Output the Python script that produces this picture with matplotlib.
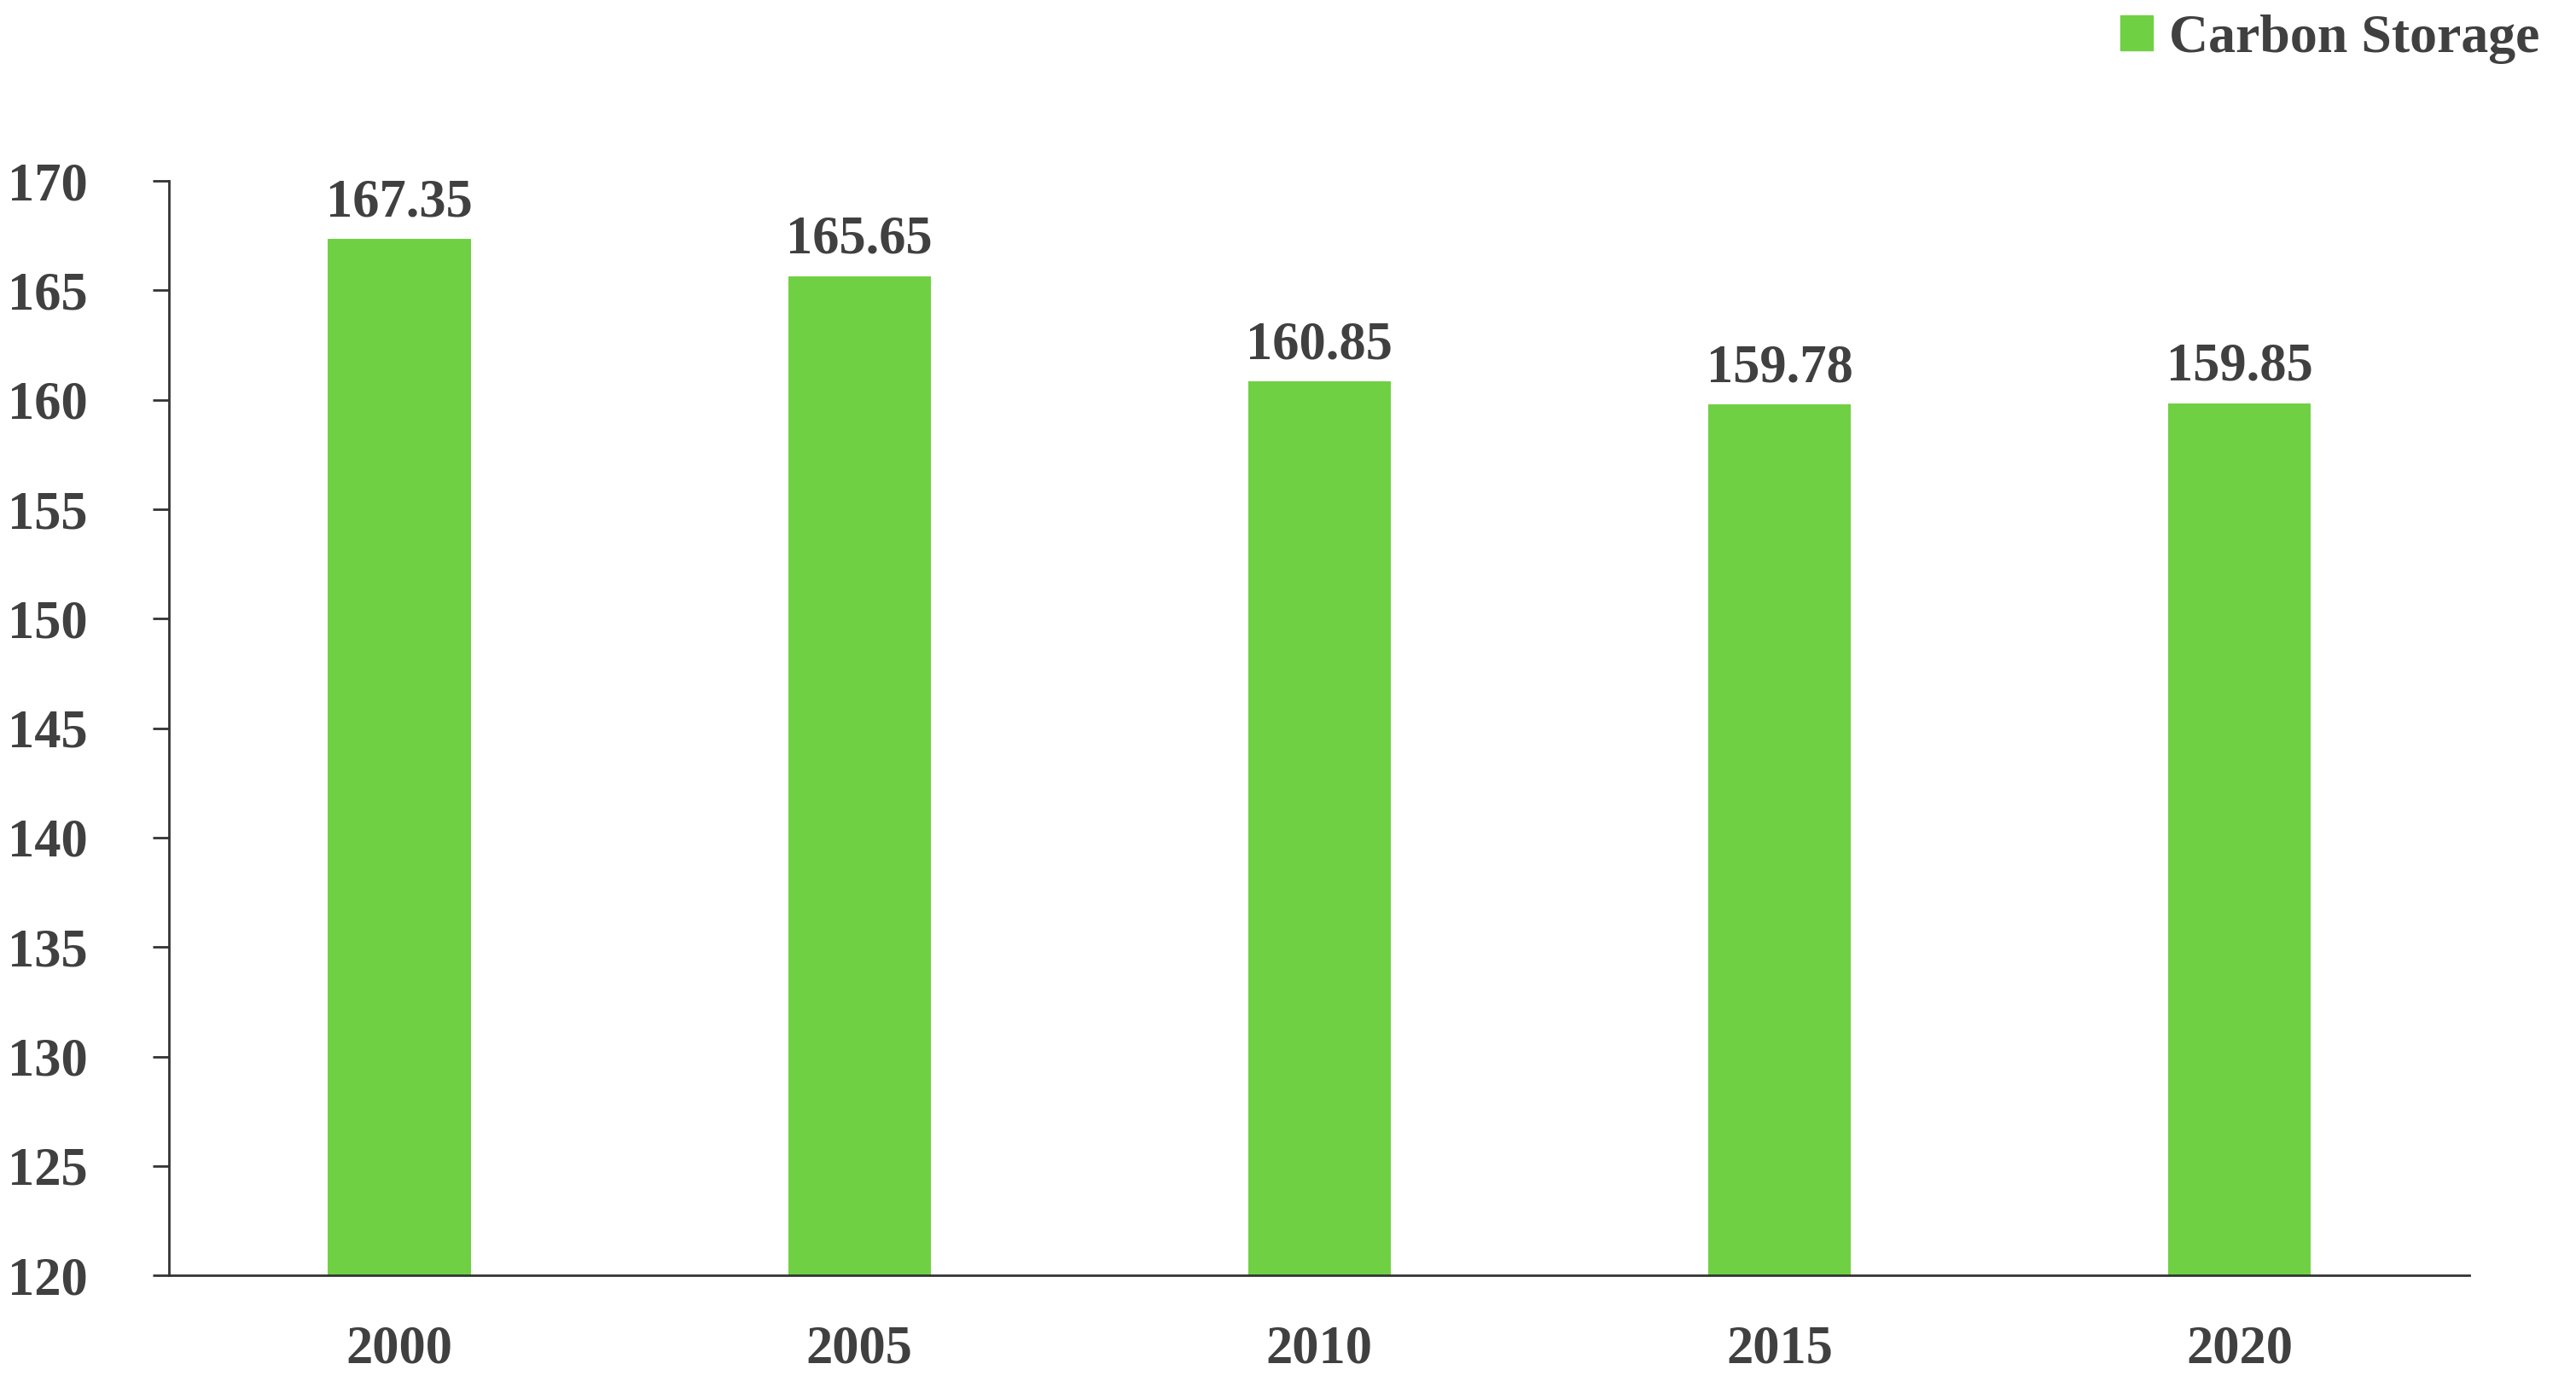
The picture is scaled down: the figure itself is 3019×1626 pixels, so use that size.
import matplotlib.pyplot as plt
from matplotlib.patches import Patch

years = ["2000", "2005", "2010", "2015", "2020"]
carbon = [167.35, 165.65, 160.85, 159.78, 159.85]

plt.rcParams["font.family"] = ["Liberation Serif", "DejaVu Serif"]
plt.rcParams["font.weight"] = "bold"

fig = plt.figure(figsize=(30.19, 16.26), dpi=100)
ax = fig.add_axes([0.0657, 0.0805, 0.893, 0.789])

green = "#70D044"
txt = "#404040"
ax.bar(range(len(years)), carbon, width=0.31, color=green, bottom=0)
for i, v in enumerate(carbon):
    ax.text(i, v + 0.5, f"{v:.2f}", ha="center", va="bottom",
            fontsize=45, fontweight="bold", color=txt)

ax.set_ylim(120, 170)
ax.set_xlim(-0.5, 4.5)
ax.set_yticks(range(120, 171, 5))
ax.set_xticks(range(len(years)))
ax.set_xticklabels(years)
for s in ["top", "right"]:
    ax.spines[s].set_visible(False)
for s in ["left", "bottom"]:
    ax.spines[s].set_color("#333333")
    ax.spines[s].set_linewidth(2)
ax.tick_params(axis="y", labelsize=45, length=14, width=2, pad=55,
               labelcolor=txt, color="#333333")
ax.tick_params(axis="x", labelsize=45, length=0, pad=42, labelcolor=txt)

fig.legend(handles=[Patch(color=green, label="Carbon Storage")],
           loc="upper right", bbox_to_anchor=(1.005, 1.025), frameon=False,
           fontsize=46, handlelength=0.6, handleheight=0.6, handletextpad=0.3,
           labelcolor=txt)

fig.savefig("out.png", dpi=100)
